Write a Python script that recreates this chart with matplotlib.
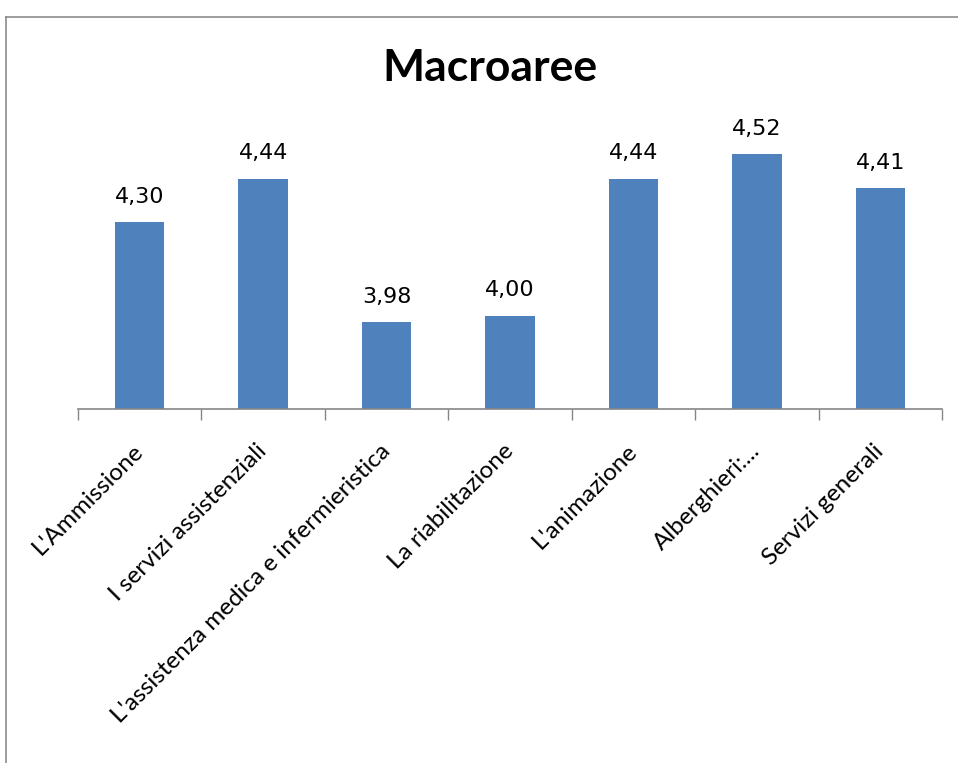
import numpy as np
import matplotlib.pyplot as plt
from matplotlib.lines import Line2D

categorie = ["L'Ammissione", "I servizi assistenziali", "L'assistenza medica e infermieristica",
             "La riabilitazione", "L'animazione", "Alberghieri:...", "Servizi generali"]
valori = [4.30, 4.44, 3.98, 4.00, 4.44, 4.52, 4.41]
etichette = ["4,30", "4,44", "3,98", "4,00", "4,44", "4,52", "4,41"]

fig = plt.figure(figsize=(9.58, 7.63), dpi=100)
ax = fig.add_axes([78 / 958, 1 - 409 / 763, 864 / 958, 280 / 763])

x = np.arange(len(categorie))
bars = ax.bar(x, valori, width=0.4, color='#4F81BD', zorder=2)
ax.set_ylim(3.7, 4.6)
ax.set_xlim(-0.5, len(categorie) - 0.5)

for xi, v, t in zip(x, valori, etichette):
    ax.annotate(t, (xi, v), xytext=(0, 11), textcoords='offset points',
                ha='center', va='bottom', fontsize=16, family='DejaVu Sans')

# tick sui confini delle categorie
ax.set_xticks(np.arange(-0.5, len(categorie)), minor=True)
ax.tick_params(axis='x', which='minor', length=8, color='#868686', width=1)
ax.set_xticks(x)
ax.set_xticklabels(categorie, rotation=45, ha='right', va='center',
                   rotation_mode='anchor', fontsize=17.5, family='Lato')
ax.tick_params(axis='x', which='major', length=0, pad=28)
ax.set_yticks([])

for s in ['top', 'right', 'left']:
    ax.spines[s].set_visible(False)
ax.spines['bottom'].set_color('#868686')
ax.spines['bottom'].set_linewidth(1.2)

fig.text(490 / 958, 1 - 68 / 763, "Macroaree", ha='center', va='center',
         fontsize=32, fontweight='bold', family='Lato')

# cornice del grafico
fig.add_artist(Line2D([6 / 958, 1], [1 - 17 / 763, 1 - 17 / 763], color='#8c8c8c', lw=1.2))
fig.add_artist(Line2D([6 / 958, 6 / 958], [0, 1 - 17 / 763], color='#8c8c8c', lw=1.2))

fig.savefig('out.png', dpi=100)
